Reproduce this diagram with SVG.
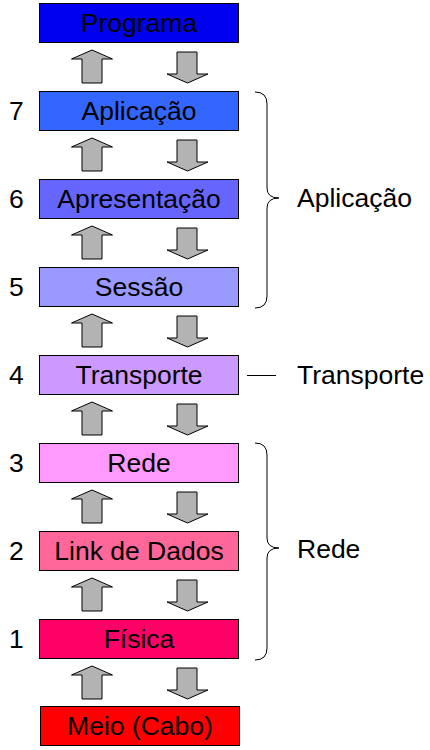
<svg xmlns="http://www.w3.org/2000/svg" width="430" height="750" viewBox="0 0 430 750">
<defs>
<style>
.box{stroke:#000;stroke-width:1}
.lbl{font-family:"Liberation Sans",Arial,sans-serif;font-size:26.5px;fill:#000;text-anchor:middle}
.side{font-family:"Liberation Sans",Arial,sans-serif;font-size:26.5px;fill:#000}
.arr{fill:#B3B3B3;stroke:#000;stroke-width:1}
.br{fill:none;stroke:#000;stroke-width:1}
</style>
<path id="up" class="arr" d="M82,83 L82,59 L71.5,59 L92,50 L112.5,59 L102,59 L102,83 Z"/>
<path id="down" class="arr" d="M177,52 L197,52 L197,74 L208,74 L187.5,83 L167,74 L177,74 Z"/>
</defs>
<rect width="430" height="750" fill="#fff"/>
<g id="connectors">
<use href="#up"/><use href="#down"/>
<use href="#up" y="88"/><use href="#down" y="88"/>
<use href="#up" y="176"/><use href="#down" y="176"/>
<use href="#up" y="264"/><use href="#down" y="264"/>
<use href="#up" y="352"/><use href="#down" y="352"/>
<use href="#up" y="440"/><use href="#down" y="440"/>
<use href="#up" y="528"/><use href="#down" y="528"/>
<use href="#up" y="616"/><use href="#down" y="616"/>
</g>
<g id="programa"><rect class="box" x="39.5" y="3.5" width="199" height="39" fill="#0000F0"/><text class="lbl" x="139" y="32">Programa</text></g>
<g id="aplicacao"><rect class="box" x="39.5" y="91.5" width="199" height="39" fill="#3366FF"/><text class="lbl" x="139" y="120">Aplicação</text><text class="side" x="9" y="120">7</text></g>
<g id="apresentacao"><rect class="box" x="39.5" y="179.5" width="199" height="39" fill="#6666FF"/><text class="lbl" x="139" y="208">Apresentação</text><text class="side" x="9" y="208">6</text></g>
<g id="sessao"><rect class="box" x="39.5" y="267.5" width="199" height="39" fill="#9999FF"/><text class="lbl" x="139" y="296">Sessão</text><text class="side" x="9" y="296">5</text></g>
<g id="transporte"><rect class="box" x="39.5" y="355.5" width="199" height="39" fill="#CC99FF"/><text class="lbl" x="139" y="384">Transporte</text><text class="side" x="9" y="384">4</text></g>
<g id="rede"><rect class="box" x="39.5" y="443.5" width="199" height="39" fill="#FF99FF"/><text class="lbl" x="139" y="472">Rede</text><text class="side" x="9" y="472">3</text></g>
<g id="link"><rect class="box" x="39.5" y="531.5" width="199" height="39" fill="#FF6699"/><text class="lbl" x="139" y="560">Link de Dados</text><text class="side" x="9" y="560">2</text></g>
<g id="fisica"><rect class="box" x="39.5" y="619.5" width="199" height="39" fill="#FF0066"/><text class="lbl" x="139" y="648">Física</text><text class="side" x="9" y="648">1</text></g>
<g id="meio"><rect class="box" x="40.5" y="706.5" width="199" height="39" fill="#FF0000"/><text class="lbl" x="140" y="735">Meio (Cabo)</text></g>
<g id="grupo-aplicacao"><path class="br" d="M255,92 Q267,92 267,104 L267,188 Q267,198 279,198 Q267,198 267,208 L267,296 Q267,308 255,308"/><text class="side" x="297" y="207">Aplicação</text></g>
<g id="grupo-transporte"><path class="br" d="M247,375.5 L276,375.5"/><text class="side" x="297" y="384">Transporte</text></g>
<g id="grupo-rede"><path class="br" d="M255,443 Q267,443 267,455 L267,538 Q267,548 279,548 Q267,548 267,558 L267,648 Q267,660 255,660"/><text class="side" x="297" y="558">Rede</text></g>
</svg>
